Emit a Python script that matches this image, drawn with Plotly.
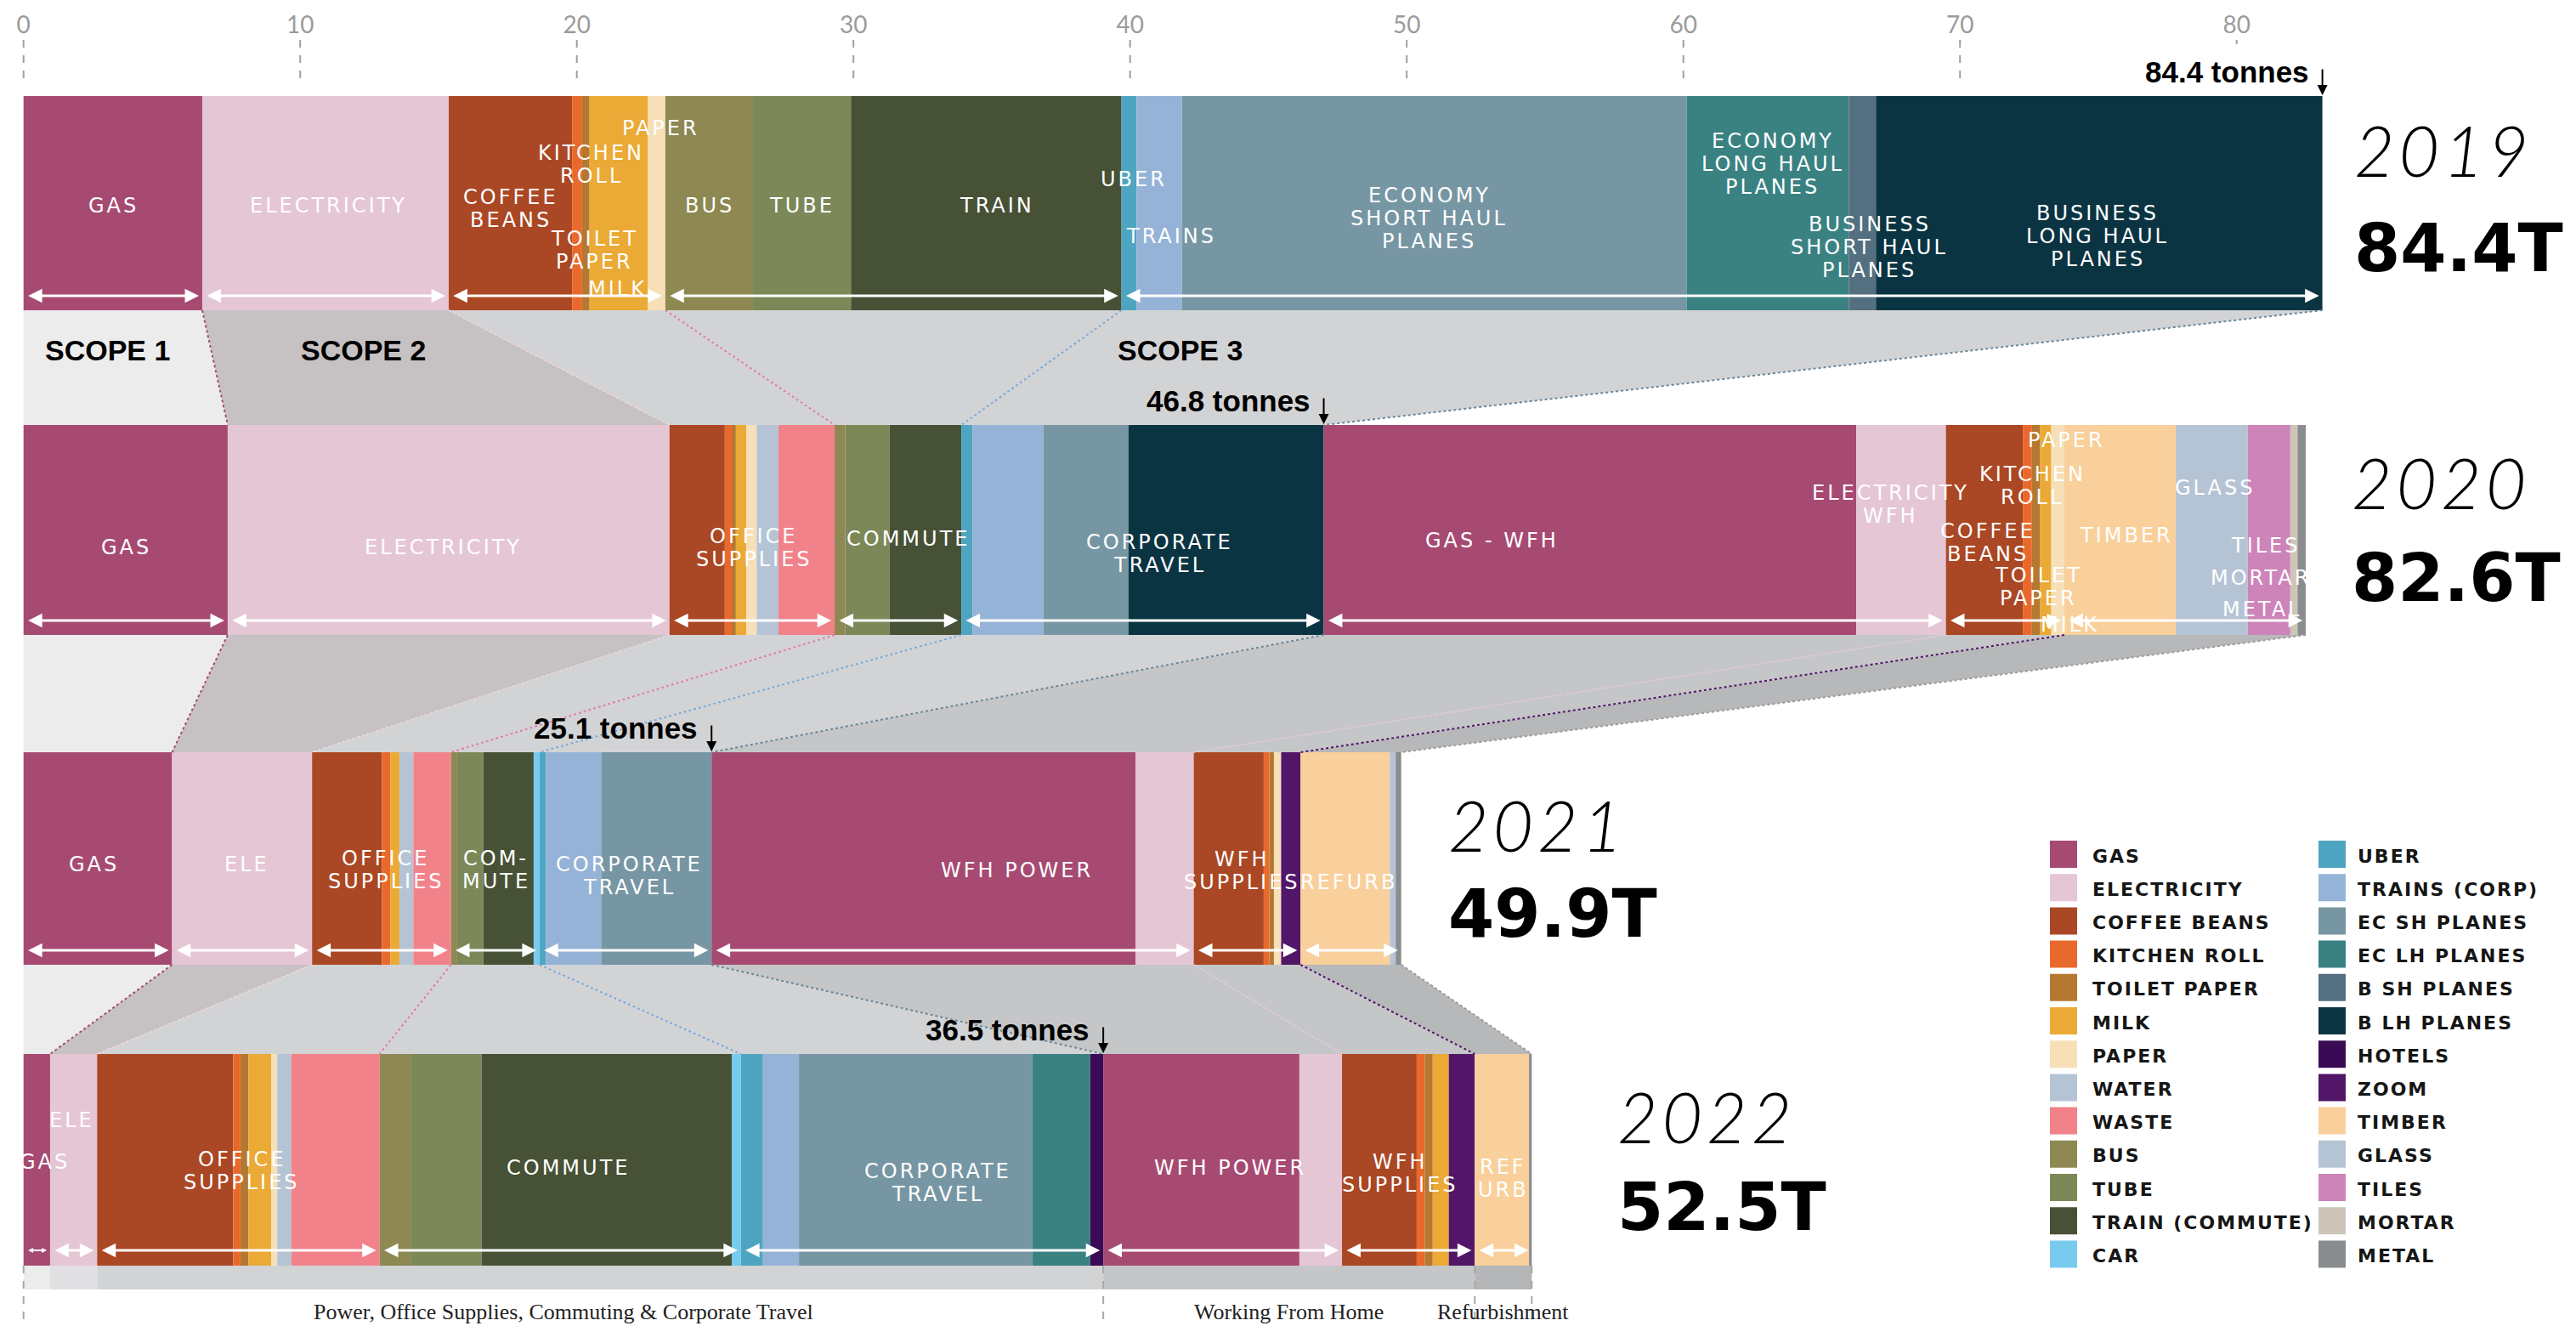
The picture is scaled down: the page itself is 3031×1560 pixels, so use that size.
import plotly.graph_objects as go

# ---------------------------------------------------------------- data
TICKS = [0, 10, 20, 30, 40, 50, 60, 70, 80]
YEARS = ["2019", "2020", "2021", "2022"]
YEAR_TOTALS = ["84.4T", "82.6T", "49.9T", "52.5T"]
OFFICE_TONNES = ["84.4 tonnes", "46.8 tonnes", "25.1 tonnes", "36.5 tonnes"]
SCOPES = ["SCOPE 1", "SCOPE 2", "SCOPE 3"]
FOOTER = ["Power, Office Supplies, Commuting & Corporate Travel",
          "Working From Home", "Refurbishment"]

CATS_2019 = ["GAS", "ELECTRICITY", "COFFEE BEANS", "KITCHEN ROLL", "TOILET PAPER", "MILK",
             "PAPER", "BUS", "TUBE", "TRAIN (COMMUTE)", "UBER", "TRAINS (CORP)",
             "EC SH PLANES", "EC LH PLANES", "B SH PLANES", "B LH PLANES"]
VALS_2019 = [6.46, 8.91, 4.46, 0.36, 0.27, 2.11, 0.63, 3.17, 3.54, 9.78, 0.54, 1.64,
             18.25, 5.86, 0.98, 16.14]
GROUPS_2019 = [1, 1, 5, 3, 6]

CATS_2020 = ["GAS", "ELECTRICITY", "COFFEE BEANS", "KITCHEN ROLL", "TOILET PAPER", "MILK",
             "PAPER", "WATER", "WASTE", "BUS", "TUBE", "TRAIN (COMMUTE)", "UBER",
             "TRAINS (CORP)", "EC SH PLANES", "B LH PLANES", "GAS", "ELECTRICITY",
             "COFFEE BEANS", "KITCHEN ROLL", "TOILET PAPER", "MILK", "PAPER", "TIMBER",
             "GLASS", "TILES", "MORTAR", "METAL"]
VALS_2020 = [7.38, 15.97, 2.0, 0.25, 0.15, 0.38, 0.37, 0.79, 2.03, 0.38, 1.6, 2.6, 0.4,
             2.57, 3.07, 7.06, 19.25, 3.24, 2.78, 0.33, 0.3, 0.4, 0.47, 4.03, 2.6, 1.54,
             0.26, 0.3]
GROUPS_2020 = [1, 1, 7, 3, 4, 2, 5, 5]

CATS_2021 = ["GAS", "ELECTRICITY", "COFFEE BEANS", "KITCHEN ROLL", "MILK", "WATER", "WASTE",
             "BUS", "TUBE", "TRAIN (COMMUTE)", "CAR", "UBER", "TRAINS (CORP)", "EC SH PLANES",
             "GAS", "ELECTRICITY", "COFFEE BEANS", "KITCHEN ROLL", "TOILET PAPER", "PAPER",
             "ZOOM", "TIMBER", "GLASS", "METAL"]
VALS_2021 = [5.37, 5.06, 2.52, 0.31, 0.33, 0.5, 1.36, 0.2, 0.97, 1.82, 0.21, 0.23, 2.0,
             3.99, 15.33, 2.1, 2.53, 0.2, 0.17, 0.26, 0.7, 3.23, 0.21, 0.2]
GROUPS_2021 = [1, 1, 5, 4, 3, 2, 5, 3]

CATS_2022 = ["GAS", "ELECTRICITY", "COFFEE BEANS", "KITCHEN ROLL", "TOILET PAPER", "MILK",
             "PAPER", "WATER", "WASTE", "BUS", "TUBE", "TRAIN (COMMUTE)", "CAR", "UBER",
             "TRAINS (CORP)", "EC SH PLANES", "EC LH PLANES", "HOTELS", "GAS", "ELECTRICITY",
             "COFFEE BEANS", "KITCHEN ROLL", "TOILET PAPER", "MILK", "ZOOM", "TIMBER", "METAL"]
VALS_2022 = [0.96, 1.7, 4.92, 0.26, 0.29, 0.83, 0.21, 0.51, 3.19, 1.12, 2.57, 9.04, 0.33,
             0.8, 1.3, 8.43, 2.1, 0.47, 7.09, 1.54, 2.7, 0.29, 0.29, 0.58, 0.94, 1.96, 0.1]
GROUPS_2022 = [1, 1, 7, 4, 5, 2, 5, 2]

LEGEND_LEFT = ["GAS", "ELECTRICITY", "COFFEE BEANS", "KITCHEN ROLL", "TOILET PAPER", "MILK",
               "PAPER", "WATER", "WASTE", "BUS", "TUBE", "TRAIN (COMMUTE)", "CAR"]
LEGEND_RIGHT = ["UBER", "TRAINS (CORP)", "EC SH PLANES", "EC LH PLANES", "B SH PLANES",
                "B LH PLANES", "HOTELS", "ZOOM", "TIMBER", "GLASS", "TILES", "MORTAR", "METAL"]

# ---------------------------------------------------------------- styles
COLORS = {
    "GAS": "#a64a72", "ELECTRICITY": "#e5c6d5", "COFFEE BEANS": "#aa4724",
    "KITCHEN ROLL": "#e9692c", "TOILET PAPER": "#b57830", "MILK": "#eba935",
    "PAPER": "#f7dfb8", "WATER": "#b5c4d5", "WASTE": "#f2828a", "BUS": "#8e8852",
    "TUBE": "#7d8859", "TRAIN (COMMUTE)": "#475136", "CAR": "#78cbee", "UBER": "#4ea5c1",
    "TRAINS (CORP)": "#95b3d6", "EC SH PLANES": "#7796a3", "EC LH PLANES": "#3a8182",
    "B SH PLANES": "#536f80", "B LH PLANES": "#0b3442", "HOTELS": "#3a0a55",
    "ZOOM": "#511667", "TIMBER": "#f9d09b", "GLASS": "#b5c4d5", "TILES": "#cd84b9",
    "MORTAR": "#cdc6b8", "METAL": "#8a8d8f",
}
CONNECT_FILL = ["#ececec", "#c6c1c2", "#d2d3d5", "#d2d3d5", "#d2d3d5",
                "#c5c6c8", "#c5c6c8", "#b7b8ba"]
CONNECT_LINE = ["#a64a72", "#ead3de", "#e07fa6", "#7eaad6", "#6a8897",
                "#e5c6d5", "#511667", "#9a9a9a"]
BAND_FILL = ["#ececec", "#e0e0e2", "#d2d3d5", "#c5c6c8", "#b5b6b8"]

W, H = 3031, 1560
OFF = 8                         # page body margin compensation
PX0, PPU = 27.7, 32.55          # page pixel of value 0, pixels per tonne
TOP = 38                        # top margin (figure px)
X_RANGE = [-(PX0 - OFF) / PPU, (W - (PX0 - OFF)) / PPU]


def pxp(px):
    """page pixel -> paper x"""
    return (px - OFF) / W


BAR_TOP = [113, 500, 885, 1240]
BAR_BOT = [365, 747, 1135, 1489]
ARROW_Y = [348, 730, 1118, 1471]
BAND = (1489, 1517)

LABEL_FONT = dict(family="DejaVu Sans", size=24, color="white")
LINE_GAP = 27


def spaced(t, ls):
    return '<span style="letter-spacing:%dpx">%s</span>' % (ls, t)


LABELS = [
    [  # 2019
        (["GAS"], 3.25, 242), (["ELECTRICITY"], 11.03, 242),
        (["PAPER"], 23.02, 151), (["KITCHEN", "ROLL"], 20.53, 193),
        (["COFFEE", "BEANS"], 17.62, 245), (["TOILET", "PAPER"], 20.65, 294),
        (["MILK"], 21.48, 340), (["BUS"], 24.8, 242), (["TUBE"], 28.13, 242),
        (["TRAIN"], 35.2, 242), (["UBER"], 40.12, 211), (["TRAINS"], 41.49, 278),
        (["ECONOMY", "SHORT HAUL", "PLANES"], 50.82, 257),
        (["ECONOMY", "LONG HAUL", "PLANES"], 63.23, 193),
        (["BUSINESS", "SHORT HAUL", "PLANES"], 66.73, 291),
        (["BUSINESS", "LONG HAUL", "PLANES"], 74.98, 278),
    ],
    [  # 2020
        (["GAS"], 3.72, 644), (["ELECTRICITY"], 15.18, 644),
        (["OFFICE", "SUPPLIES"], 26.41, 644), (["COMMUTE"], 31.99, 634),
        (["CORPORATE", "TRAVEL"], 41.08, 651), (["GAS - WFH"], 53.07, 636),
        (["ELECTRICITY", "WFH"], 67.5, 593), (["KITCHEN", "ROLL"], 72.61, 571),
        (["PAPER"], 73.86, 518), (["COFFEE", "BEANS"], 71.0, 638),
        (["TOILET", "PAPER"], 72.85, 690), (["MILK"], 73.98, 735),
        (["TIMBER"], 76.0, 630), (["GLASS"], 79.2, 574), (["TILES"], 81.04, 642),
        (["MORTAR"], 80.86, 680), (["METAL"], 80.92, 717),
    ],
    [  # 2021
        (["GAS"], 2.53, 1017), (["ELE"], 8.06, 1017),
        (["OFFICE", "SUPPLIES"], 13.11, 1023), (["COM-", "MUTE"], 17.08, 1023),
        (["CORPORATE", "TRAVEL"], 21.9, 1030), (["WFH POWER"], 35.91, 1024),
        (["WFH", "SUPPLIES"], 44.04, 1024), (["REFURB"], 47.9, 1038),
    ],
    [  # 2022
        (["GAS"], 0.75, 1367), (["ELE"], 1.76, 1318),
        (["OFFICE", "SUPPLIES"], 7.9, 1377), (["COMMUTE"], 19.7, 1374),
        (["CORPORATE", "TRAVEL"], 33.06, 1391), (["WFH POWER"], 43.63, 1374),
        (["WFH", "SUPPLIES"], 49.75, 1380), (["REF", "URB"], 53.49, 1386),
    ],
]

YEAR_POS = [(2768, 176, 292), (2765, 567, 680), (1702, 970, 1075), (1901, 1313, 1420)]
SCOPE_POS = [(126, 412), (427, 412), (1388, 412)]


def bases_of(vals):
    out, s = [], 0.0
    for v in vals:
        out.append(s)
        s += v
    return out


def spans_of(vals, groups):
    out, i, s = [], 0, 0.0
    for g in groups:
        w = sum(vals[i:i + g])
        out.append((s, s + w))
        s += w
        i += g
    return out


ALL_CATS = [CATS_2019, CATS_2020, CATS_2021, CATS_2022]
ALL_VALS = [VALS_2019, VALS_2020, VALS_2021, VALS_2022]
ALL_GROUPS = [GROUPS_2019, GROUPS_2020, GROUPS_2021, GROUPS_2022]
SPANS = [spans_of(v, g) for v, g in zip(ALL_VALS, ALL_GROUPS)]

fig = go.Figure()

# ------------------------------------------------ connectors between years
for k in range(3):
    up, lo = SPANS[k], SPANS[k + 1]
    yt, yb = BAR_BOT[k], BAR_TOP[k + 1]
    for g in range(len(up)):
        u0, u1 = up[g]
        l0, l1 = lo[g]
        fig.add_trace(go.Scatter(
            x=[u0, u1, l1, l0, u0], y=[yt, yt, yb, yb, yt], mode="lines",
            fill="toself", fillcolor=CONNECT_FILL[g], line=dict(width=0),
            hoverinfo="skip", showlegend=False))
    for g in range(len(up)):
        fig.add_trace(go.Scatter(
            x=[up[g][1], lo[g][1]], y=[yt, yb], mode="lines",
            line=dict(color=CONNECT_LINE[g], width=2, dash="dot"),
            hoverinfo="skip", showlegend=False))

# ------------------------------------------------ bars
for k in range(4):
    cats, vals = ALL_CATS[k], ALL_VALS[k]
    n = len(vals)
    fig.add_trace(go.Bar(
        y=[(BAR_TOP[k] + BAR_BOT[k]) / 2] * n, x=vals, base=bases_of(vals),
        width=[BAR_BOT[k] - BAR_TOP[k]] * n, orientation="h",
        marker=dict(color=[COLORS[c] for c in cats], line=dict(width=0)),
        hovertext=cats, hoverinfo="text+x", showlegend=False, name=YEARS[k]))

# footer band under 2022
s22 = SPANS[3]
band_spans = [s22[0], s22[1], (s22[2][0], s22[4][1]), (s22[5][0], s22[6][1]), s22[7]]
fig.add_trace(go.Bar(
    y=[(BAND[0] + BAND[1]) / 2] * 5, x=[b - a for a, b in band_spans],
    base=[a for a, b in band_spans], width=[BAND[1] - BAND[0]] * 5, orientation="h",
    marker=dict(color=BAND_FILL, line=dict(width=0)), hoverinfo="skip", showlegend=False))

ann = []
shapes = []

# tick dashes
for t in TICKS:
    shapes.append(dict(type="line", xref="x", yref="y", x0=t, x1=t, y0=TOP + OFF + 1,
                       y1=52 if t == 80 else 97,
                       line=dict(color="#a0a0a0", width=2, dash="dash")))

# group arrows
inset = 0.12
for k in range(4):
    for a, b in SPANS[k]:
        narrow = (b - a) < 1.5
        ann.append(dict(x=b - inset, y=ARROW_Y[k], ax=a + inset, ay=ARROW_Y[k],
                        xref="x", yref="y", axref="x", ayref="y", text="",
                        showarrow=True, arrowhead=2, arrowside="end+start",
                        arrowsize=0.6 if narrow else 1.1,
                        arrowwidth=2 if narrow else 3, arrowcolor="white",
                        standoff=0, startstandoff=0))

# segment labels
for k in range(4):
    for lines, xv, yc in LABELS[k]:
        n = len(lines)
        for i, ln in enumerate(lines):
            yy = yc + (i - (n - 1) / 2) * LINE_GAP
            ann.append(dict(x=xv, y=yy, xref="x", yref="y", text=spaced(ln, 3),
                            showarrow=False, xanchor="center", yanchor="middle",
                            font=LABEL_FONT))

# tonnes markers (end of office/commute/corporate groups)
for k in range(4):
    xe = SPANS[k][4][1]
    ann.append(dict(x=xe, y=BAR_TOP[k] - 29, xref="x", yref="y", text=OFFICE_TONNES[k],
                    showarrow=False, xanchor="right", yanchor="middle", xshift=-14,
                    font=dict(family="Liberation Sans", size=35, color="black",
                              weight="bold")))
    ann.append(dict(x=xe, y=BAR_TOP[k] - 1, xref="x", yref="y", text="", showarrow=True,
                    ax=0, ay=-32, arrowhead=2, arrowsize=1.2, arrowwidth=2,
                    arrowcolor="black", standoff=0))

# year / total labels
for k in range(4):
    px, y1, y2 = YEAR_POS[k]
    ann.append(dict(x=pxp(px), y=y1, xref="paper", yref="y", text=spaced(YEARS[k], 5),
                    showarrow=False, xanchor="left", yanchor="middle",
                    font=dict(family="Lato", size=82, color="black", weight=300,
                              style="italic")))
    ann.append(dict(x=pxp(px), y=y2, xref="paper", yref="y", text=YEAR_TOTALS[k],
                    showarrow=False, xanchor="left", yanchor="middle",
                    font=dict(family="DejaVu Sans", size=78, color="black",
                              weight="bold")))

# scope labels
for txt, (px, py) in zip(SCOPES, SCOPE_POS):
    ann.append(dict(x=pxp(px), y=py, xref="paper", yref="y", text=txt, showarrow=False,
                    xanchor="center", yanchor="middle",
                    font=dict(family="Liberation Sans", size=34, color="black",
                              weight="bold")))

# footer dashed dividers + captions
foot_bounds = [0.0, s22[4][1], s22[6][1], s22[7][1]]
for xb in foot_bounds:
    shapes.append(dict(type="line", xref="x", yref="y", x0=xb, x1=xb, y0=BAR_BOT[3],
                       y1=H + OFF, line=dict(color="#a8a8a8", width=2, dash="dash")))
for i, txt in enumerate(FOOTER):
    xc = (foot_bounds[i] + foot_bounds[i + 1]) / 2
    ann.append(dict(x=xc, y=1543, xref="x", yref="y", text=txt, showarrow=False,
                    xanchor="center", yanchor="middle",
                    font=dict(family="Liberation Serif", size=26, color="#222222")))

# legend
ROW0, ROWSTEP = 1005, 39.2
for col, names, sq_x, tx in [(0, LEGEND_LEFT, 2412, 2460), (1, LEGEND_RIGHT, 2728, 2772)]:
    for i, nm in enumerate(names):
        yy = ROW0 + i * ROWSTEP
        shapes.append(dict(type="rect", xref="paper", yref="y", x0=pxp(sq_x),
                           x1=pxp(sq_x + 32), y0=yy - 16, y1=yy + 16,
                           fillcolor=COLORS[nm], line=dict(width=0)))
        ann.append(dict(x=pxp(tx), y=yy + 2, xref="paper", yref="y",
                        text=spaced(nm, 2), showarrow=False, xanchor="left",
                        yanchor="middle",
                        font=dict(family="DejaVu Sans", size=22, color="#161616",
                                  weight="bold")))

fig.update_layout(
    width=W, height=H, margin=dict(l=0, r=0, t=TOP, b=0),
    paper_bgcolor="white", plot_bgcolor="white", barmode="overlay", showlegend=False,
    xaxis=dict(range=X_RANGE, side="top", tickvals=TICKS,
               ticktext=[str(t) for t in TICKS], showgrid=False, zeroline=False,
               showline=False, ticks="",
               tickfont=dict(family="Lato", size=28, color="#9b9b9b")),
    yaxis=dict(range=[H + OFF, TOP + OFF], visible=False),
    annotations=ann, shapes=shapes,
)

fig.write_html("out.html")
